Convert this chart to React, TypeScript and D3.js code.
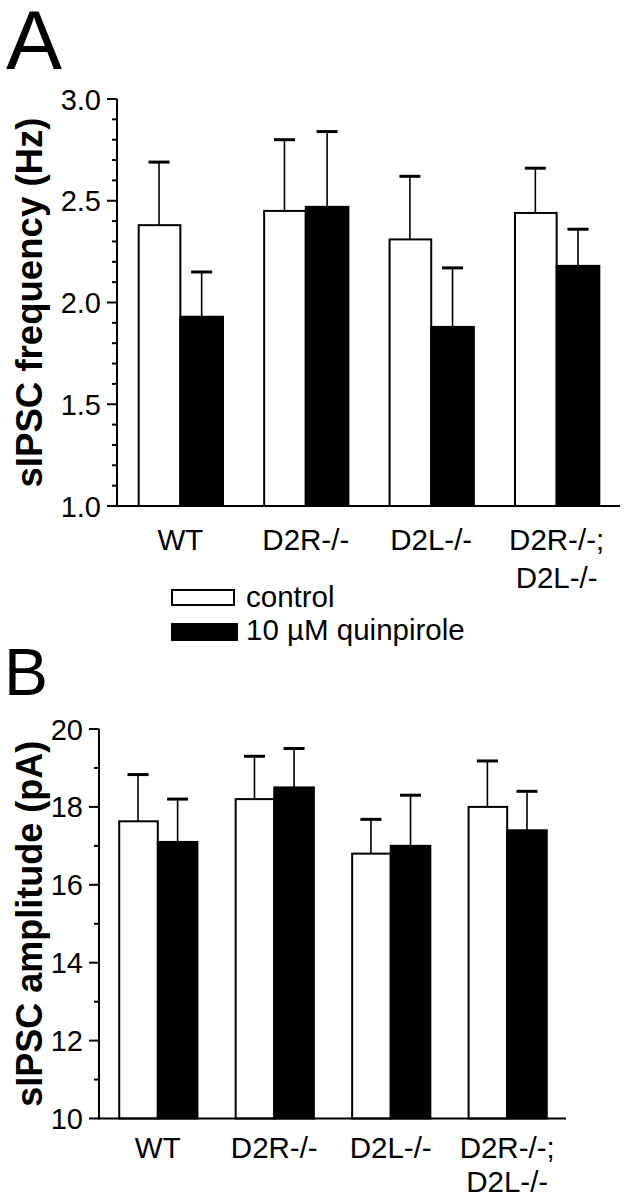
import React from "react";
import * as d3 from "d3";

const groups: string[][] = [["WT"], ["D2R-/-"], ["D2L-/-"], ["D2R-/-;", "D2L-/-"]];
const series = ["control", "10 µM quinpirole"];

const freqControl = [2.38, 2.45, 2.31, 2.44];
const freqControlSem = [0.31, 0.35, 0.31, 0.22];
const freqQuin = [1.93, 2.47, 1.88, 2.18];
const freqQuinSem = [0.22, 0.37, 0.29, 0.18];

const ampControl = [17.63, 18.2, 16.8, 18.0];
const ampControlSem = [1.2, 1.1, 0.88, 1.18];
const ampQuin = [17.1, 18.5, 17.0, 17.4];
const ampQuinSem = [1.1, 1.0, 1.3, 1.0];

const freqTicks = [1.0, 1.5, 2.0, 2.5, 3.0];
const freqMinor = [1.1, 1.2, 1.3, 1.4, 1.6, 1.7, 1.8, 1.9, 2.1, 2.2, 2.3, 2.4, 2.6, 2.7, 2.8, 2.9];
const ampTicks = [10, 12, 14, 16, 18, 20];
const ampMinor = [11, 13, 15, 17, 19];

const FONT = "'Liberation Sans', Arial, Helvetica, sans-serif";

type PanelProps = {
  x0: number; x1: number; yTop: number; yBottom: number;
  domain: [number, number];
  control: number[]; controlSem: number[]; quin: number[]; quinSem: number[];
  ticks: number[]; minor: number[]; fmt: (v: number) => string;
  title: string; titleX: number; titleLen: number;
  labelY: number; lineGap: number;
};

function Panel(p: PanelProps) {
  const y = d3.scaleLinear().domain(p.domain).range([p.yBottom, p.yTop]);
  const x = d3.scaleBand<number>()
    .domain(d3.range(groups.length))
    .range([p.x0, p.x1])
    .paddingInner(0.32)
    .paddingOuter(0.165);
  const inner = d3.scaleBand<number>().domain([0, 1]).range([0, x.bandwidth()]);
  const bw = inner.bandwidth();
  const vals = [p.control, p.quin];
  const sems = [p.controlSem, p.quinSem];
  const capW = 21;
  const base = y(p.domain[0]);
  return (
    <g>
      {groups.map((_, gi) =>
        [0, 1].map((si) => {
          const v = vals[si][gi];
          const top = v + sems[si][gi];
          const bx = (x(gi) as number) + (inner(si) as number);
          const cx = bx + bw / 2;
          return (
            <g key={`${gi}-${si}`}>
              <line x1={cx} x2={cx} y1={y(v)} y2={y(top)} stroke="#000" strokeWidth={1.6} />
              <line x1={cx - capW / 2} x2={cx + capW / 2} y1={y(top)} y2={y(top)} stroke="#000" strokeWidth={3} />
              <rect
                x={si === 0 ? bx + 1 : bx}
                y={y(v)}
                width={si === 0 ? bw - 1 : bw}
                height={base - y(v)}
                fill={si === 0 ? "#fff" : "#000"}
                stroke="#000"
                strokeWidth={2}
              />
            </g>
          );
        })
      )}
      <line x1={p.x0} x2={p.x0} y1={p.yTop} y2={base} stroke="#000" strokeWidth={2} />
      <line x1={p.x0 - 1} x2={p.x1} y1={base} y2={base} stroke="#000" strokeWidth={2} />
      {p.ticks.map((t) => (
        <g key={`t${t}`}>
          <line x1={p.x0 - 10} x2={p.x0} y1={y(t)} y2={y(t)} stroke="#000" strokeWidth={2} />
          <text x={p.x0 - 16} y={y(t) + 10.5} textAnchor="end" fontSize={29} fontFamily={FONT} fill="#000">
            {p.fmt(t)}
          </text>
        </g>
      ))}
      {p.minor.map((t) => (
        <line key={`m${t}`} x1={p.x0 - 5} x2={p.x0} y1={y(t)} y2={y(t)} stroke="#000" strokeWidth={2} />
      ))}
      {groups.map((lines, gi) => (
        <text key={`g${gi}`} textAnchor="middle" fontSize={29.5} fontFamily={FONT} fill="#000">
          {lines.map((l, li) => (
            <tspan key={li} x={(x(gi) as number) + x.bandwidth() / 2} y={p.labelY + li * p.lineGap}>
              {l}
            </tspan>
          ))}
        </text>
      ))}
      <text
        transform={`translate(${p.titleX},${(p.yTop + base) / 2}) rotate(-90)`}
        textAnchor="middle"
        fontSize={37}
        fontWeight="bold"
        fontFamily={FONT}
        fill="#000"
        textLength={p.titleLen}
        lengthAdjust="spacingAndGlyphs"
      >
        {p.title}
      </text>
    </g>
  );
}

export default function App() {
  return (
    <svg
      width={639}
      height={1199}
      viewBox="0 0 639 1199"
      style={{ position: "absolute", left: 0, top: 0, background: "#fff" }}
    >
      <rect width={639} height={1199} fill="#fff" />
      <text x={6} y={69} fontSize={84} fontFamily={FONT} fill="#000">A</text>
      <text x={4} y={695} fontSize={66} fontFamily={FONT} fill="#000">B</text>
      <Panel
        x0={117} x1={620} yTop={99} yBottom={506}
        domain={[1, 3]}
        control={freqControl} controlSem={freqControlSem}
        quin={freqQuin} quinSem={freqQuinSem}
        ticks={freqTicks} minor={freqMinor} fmt={(v) => v.toFixed(1)}
        title="sIPSC frequency (Hz)" titleX={42} titleLen={370}
        labelY={550} lineGap={38}
      />
      <Panel
        x0={99} x1={566} yTop={729} yBottom={1118.5}
        domain={[10, 20]}
        control={ampControl} controlSem={ampControlSem}
        quin={ampQuin} quinSem={ampQuinSem}
        ticks={ampTicks} minor={ampMinor} fmt={(v) => String(v)}
        title="sIPSC amplitude (pA)" titleX={42} titleLen={366}
        labelY={1158} lineGap={34}
      />
      {series.map((s, i) => (
        <g key={s}>
          <rect
            x={172}
            y={590 + i * 34}
            width={i === 0 ? 62 : 65}
            height={i === 0 ? 15 : 16}
            fill={i === 0 ? "#fff" : "#000"}
            stroke="#000"
            strokeWidth={2}
          />
          <text x={246} y={607 + i * 33} fontSize={29.5} fontFamily={FONT} fill="#000">
            {s}
          </text>
        </g>
      ))}
    </svg>
  );
}
